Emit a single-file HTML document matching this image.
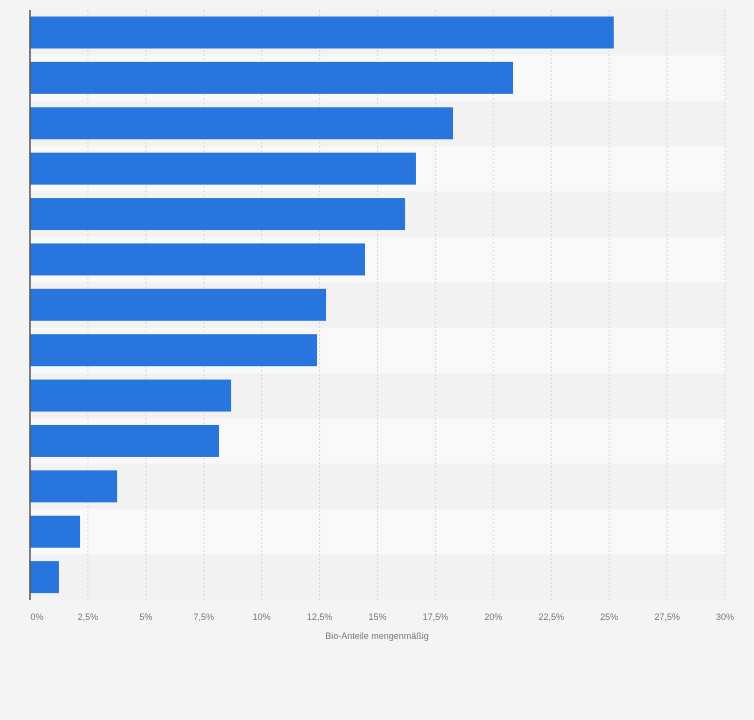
<!DOCTYPE html>
<html><head><meta charset="utf-8"><style>
html,body{margin:0;padding:0;background:#f4f4f4;}
svg{display:block;font-family:"Liberation Sans",sans-serif;}
</style></head><body>
<svg id="chart" width="754" height="720" xmlns="http://www.w3.org/2000/svg">
<rect x="0" y="0" width="754" height="720" fill="#f4f4f4"/>
<g id="bands"></g><g id="grid"></g><g id="bars"></g><g id="ticks"></g>
<line x1="30" y1="10" x2="30" y2="600" stroke="#555" stroke-width="1.5"/>
<text x="377" y="639" font-size="9" fill="#777" text-anchor="middle">Bio-Anteile mengenmäßig</text>
</svg>
<script>
const categories = ["c1","c2","c3","c4","c5","c6","c7","c8","c9","c10","c11","c12","c13"];
const values = [25.2, 20.85, 18.26, 16.66, 16.19, 14.46, 12.78, 12.39, 8.68, 8.16, 3.76, 2.16, 1.25];
const tickValues = [0,2.5,5,7.5,10,12.5,15,17.5,20,22.5,25,27.5,30];
const tickLabels = ["0%","2,5%","5%","7,5%","10%","12,5%","15%","17,5%","20%","22,5%","25%","27,5%","30%"];
const NS="http://www.w3.org/2000/svg";
const x0=30,x1=725,yTop=10,yBot=600,xMax=30;
const rowH=(yBot-yTop)/categories.length;
const xs=v=>x0+v/xMax*(x1-x0);
const mk=(t,a,p)=>{const e=document.createElementNS(NS,t);for(const k in a)e.setAttribute(k,a[k]);p.appendChild(e);return e;};
const bands=document.getElementById('bands'),grid=document.getElementById('grid'),bars=document.getElementById('bars'),ticks=document.getElementById('ticks');
categories.forEach((c,i)=>{
  const y=yTop+i*rowH;
  const b=mk('rect',{x:x0,y:y,width:x1-x0,height:rowH,fill:i%2?'#f9f9f9':'#f2f2f2'},bands);
  
  
});
tickValues.forEach((v,i)=>{
  if(v>0){
    const l=mk('line',{x1:xs(v),x2:xs(v),y1:yTop,y2:yBot,stroke:'#d8d8d8','stroke-dasharray':'2,2'},grid);
    
    
  }
  const t=mk('text',{x:xs(v)+(i==0?7:0),y:620,'font-size':9,fill:'#777','text-anchor':'middle'},ticks);
  t.textContent=tickLabels[i];
  
  
});
categories.forEach((c,i)=>{
  const y=yTop+i*rowH+6.5;
  const r=mk('rect',{x:x0,y:y,width:xs(values[i])-x0,height:32,fill:'#2876dd'},bars);
  
  
});
</script>
</body></html>
